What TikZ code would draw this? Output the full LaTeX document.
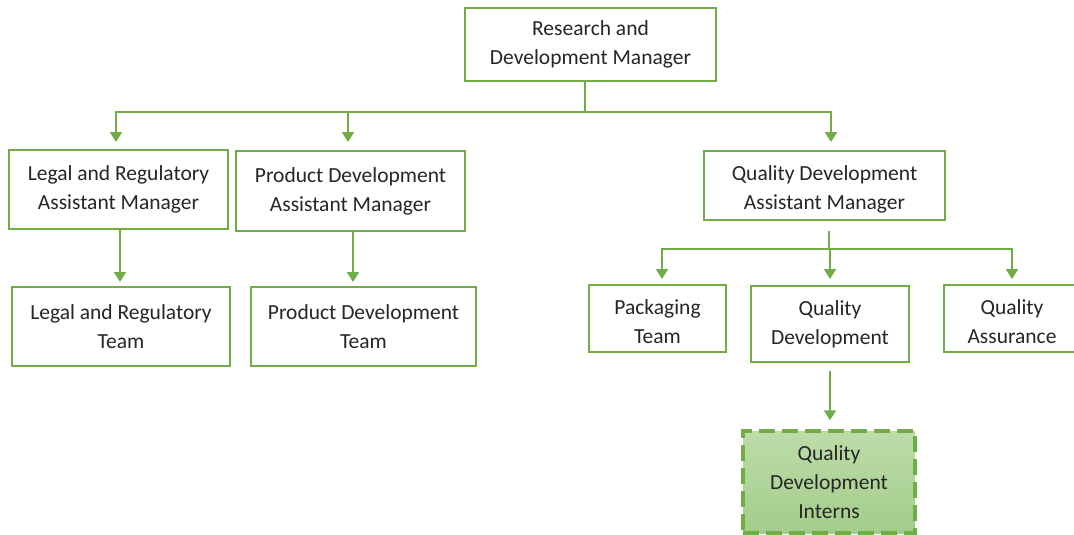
\documentclass[tikz,border=0pt]{standalone}
\usepackage{fontspec}
\setmainfont{Carlito}
\usetikzlibrary{arrows.meta,calc}
\definecolor{grn}{HTML}{70AD47}
\definecolor{txt}{HTML}{262626}
\definecolor{fillA}{HTML}{BCDCA8}
\definecolor{fillB}{HTML}{A3CD8A}
\newcommand{\lowstrut}{\rule{0pt}{22pt}}
\begin{document}
\begin{tikzpicture}[x=1pt,y=-1pt,
  box/.style={draw=grn,line width=2pt,fill=white,inner sep=0pt,align=center,text=txt,
    font=\fontsize{21.5}{29}\selectfont},
  link/.style={draw=grn,line width=2pt},
  arr/.style={link,-{Triangle[width=12pt,length=10pt]}}]
\useasboundingbox (0,0) rectangle (1074,535);
\clip (0,0) rectangle (1074,535);
\fill[white] (0,0) rectangle (1074,535);

\node[box,minimum width=251pt,minimum height=73pt] (rd) at (590.5,44.5) {Research and\\Development Manager};
\node[box,minimum width=219pt,minimum height=79pt] (la) at (118.5,189.5) {Legal and Regulatory\\Assistant Manager};
\node[box,minimum width=229pt,minimum height=80pt] (pa) at (350.5,191) {Product Development\\Assistant Manager};
\node[box,minimum width=241pt,minimum height=69pt] (qa) at (824.5,185.5) {\lowstrut Quality Development\\Assistant Manager};
\node[box,minimum width=218pt,minimum height=79pt] (lt) at (121,326.5) {Legal and Regulatory\\Team};
\node[box,minimum width=225pt,minimum height=79pt] (pt) at (363.5,326.5) {Product Development\\Team};
\node[box,minimum width=137pt,minimum height=67pt] (pk) at (657.5,318.5) {\lowstrut Packaging\\Team};
\node[box,minimum width=158pt,minimum height=76pt] (qd) at (830,324) {Quality\\Development};
\node[box,minimum width=136pt,minimum height=67pt] (qs) at (1012,318.5) {\lowstrut Quality\\Assurance};
\node[box,draw=grn,line width=3.5pt,dash pattern=on 16pt off 7pt,top color=fillA,bottom color=fillB,
  minimum width=172pt,minimum height=102pt] (in) at (829,482) {Quality\\Development\\Interns};

\coordinate (j1) at (585,112);
\coordinate (j2) at (829,249);

\draw[link] (rd.south -| j1) -- (j1);
\draw[arr,shorten >=7pt] (j1) -| ([xshift=-2.5pt]la.north);
\draw[arr,shorten >=8pt] (j1) -| ([xshift=-2.5pt]pa.north);
\draw[arr,shorten >=8pt] (j1) -| ([xshift=6.5pt]qa.north);

\draw[arr,shorten >=4pt] ([xshift=1.5pt]la.south) -- ([xshift=1.5pt]la.south |- lt.north);
\draw[arr,shorten >=4pt] ([xshift=2.5pt]pa.south) -- ([xshift=2.5pt]pa.south |- pt.north);

\draw[link,shorten <=10pt] (qa.south -| j2) -- (j2);
\draw[arr,shorten >=5pt] (j2) -| ([xshift=4.5pt]pk.north);
\draw[arr,shorten >=6pt] (j2) -| (qd.north);
\draw[arr,shorten >=5pt] (j2) -| (qs.north);

\draw[arr,shorten <=8pt,shorten >=9pt] (qd.south) -- (qd.south |- in.north);
\end{tikzpicture}
\end{document}
